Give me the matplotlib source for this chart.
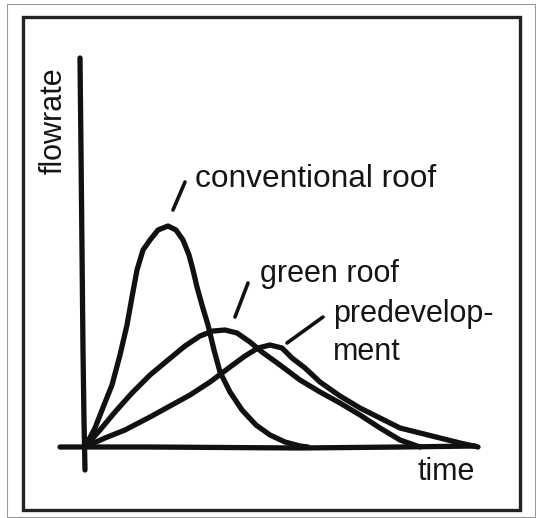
import matplotlib.pyplot as plt
from matplotlib.patches import Rectangle

# hand-drawn hydrograph sketch
# time / flow are in arbitrary units measured from the origin
conv_t = [0, 10, 19, 27, 35, 42, 47, 52, 58, 65, 73, 83, 91, 98, 104, 108, 112, 117, 123, 129, 135, 145, 157, 171, 185, 200, 215, 223]
conv_q = [0, 19, 42, 62, 92, 122, 150, 177, 197, 207, 217, 221, 217, 207, 192, 177, 160, 142, 122, 97, 75, 55, 37, 22, 12, 5, 1, 0]

green_t = [0, 15, 30, 47, 65, 83, 100, 115, 128, 140, 152, 165, 177, 195, 215, 235, 255, 275, 295, 315, 335]
green_q = [0, 17, 35, 54, 72, 87, 101, 111, 116, 117, 114, 105, 95, 82, 67, 55, 44, 32, 19, 7, 0]

pre_t = [0, 20, 40, 65, 85, 105, 125, 145, 160, 173, 185, 197, 207, 220, 235, 255, 275, 295, 315, 335, 355, 375, 393]
pre_q = [0, 9, 17, 30, 41, 52, 65, 80, 91, 99, 102, 99, 89, 79, 65, 51, 39, 29, 19, 14, 9, 4, 0]

# hand-drawn axes
yaxis_t = [-5, -4, -3, -2, -1, 0]
yaxis_q = [389, 297, 197, 97, 27, -23]
xaxis_t = [-25, 65, 215, 315, 390]
xaxis_q = [0, 0, -1, 0, 1]

labels = ["conventional roof", "green roof", "predevelop-", "ment", "time", "flowrate"]

fig = plt.figure(figsize=(5.36, 5.18), dpi=100)
ax = fig.add_axes([0, 0, 1, 1])
ax.set_xlim(-85, 451)
ax.set_ylim(-71, 447)
ax.axis('off')

ink = '#111111'
kw = dict(color=ink, lw=3.8, solid_capstyle='round', solid_joinstyle='round')

ax.plot(yaxis_t, yaxis_q, **kw)
ax.plot(xaxis_t, xaxis_q, **kw)
ax.plot(conv_t, conv_q, **kw)
ax.plot(green_t, green_q, **kw)
ax.plot(pre_t, pre_q, **kw)

# leader lines
ax.plot([88, 100], [237, 265], color=ink, lw=2.6, solid_capstyle='round')
ax.plot([150, 163], [130, 164], color=ink, lw=2.6, solid_capstyle='round')
ax.plot([202, 238], [104, 130], color=ink, lw=2.6, solid_capstyle='round')

fs = 22
font = 'Liberation Sans'
tc = '#151515'
ax.text(110, 260, labels[0], fontsize=fs + 0.8, family=font, color=tc, ha='left', va='baseline')
ax.text(175, 165, labels[1], fontsize=fs, family=font, color=tc, ha='left', va='baseline')
ax.text(248, 125, labels[2], fontsize=fs, family=font, color=tc, ha='left', va='baseline')
ax.text(248, 87, labels[3], fontsize=fs, family=font, color=tc, ha='left', va='baseline')
ax.text(332, -33, labels[4], fontsize=fs, family=font, color=tc, ha='left', va='baseline')
ax.text(-31, 326, labels[5], fontsize=fs, family=font, color=tc, rotation=90, ha='center', va='center')

# frame around the sketch
ax.add_patch(Rectangle((-62, -63), 497, 493, fill=False, ec='#222222', lw=2.4))
ax.add_patch(Rectangle((-78, -70), 528, 513, fill=False, ec='#999999', lw=0.8))

fig.savefig('out.png', dpi=100)
